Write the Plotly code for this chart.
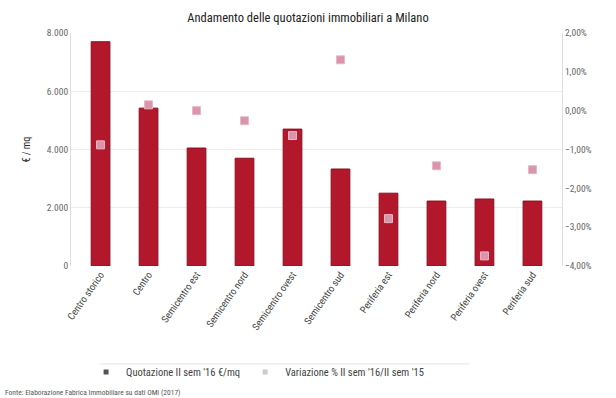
import plotly.graph_objects as go

# Milan housing prices by zone
zone = ["Centro storico", "Centro", "Semicentro est", "Semicentro nord",
        "Semicentro ovest", "Semicentro sud", "Periferia est", "Periferia nord",
        "Periferia ovest", "Periferia sud"]
prezzo_mq = [7700, 5420, 4050, 3700, 4700, 3330, 2500, 2230, 2300, 2230]
variazione_pct = [-0.88, 0.15, 0.0, -0.26, -0.64, 1.31, -2.78, -1.42, -3.74, -1.52]

titolo = "Andamento delle quotazioni immobiliari a Milano"
nome_barre = "Quotazione II sem '16 €/mq"
nome_punti = "Variazione % II sem '16/II sem '15"
fonte = "Fonte: Elaborazione Fabrica Immobiliare su dati OMI (2017)"

FONT = "Liberation Sans Narrow, Roboto Condensed, Liberation Sans, Arial, sans-serif"
TXT = "#444444"
BAR = "#B3172B"
PUNTO = "#D995AA"

fig = go.Figure()
fig.add_trace(go.Bar(
    x=zone, y=prezzo_mq, name=nome_barre, showlegend=False,
    marker=dict(color=BAR, line=dict(color="#8C0E1E", width=1)),
    yaxis="y",
))
fig.add_trace(go.Scatter(
    x=zone, y=[v / 100 for v in variazione_pct], name=nome_punti,
    mode="markers", showlegend=False,
    marker=dict(symbol="square", size=8, color=PUNTO,
                line=dict(color="#E8B8C4", width=1)),
    yaxis="y2",
))
# compact legend entries with small square swatches
fig.add_trace(go.Scatter(x=[None], y=[None], mode="markers", name=nome_barre,
                         marker=dict(symbol="square", size=5, color="#555555")))
fig.add_trace(go.Scatter(x=[None], y=[None], mode="markers", name=nome_punti,
                         marker=dict(symbol="square", size=5, color="#cccccc")))

fig.update_layout(
    width=616, height=398,
    margin=dict(l=71, r=54, t=33, b=132),
    paper_bgcolor="white", plot_bgcolor="white",
    separators=",.",
    font=dict(family=FONT, size=10, color=TXT),
    title=dict(text=titolo, x=0.5, xanchor="center", y=0.955, yanchor="middle",
               font=dict(family=FONT, size=12.5, color="#222222")),
    bargap=0.61,
    showlegend=True,
    legend=dict(orientation="h", x=0.38, xanchor="center", y=-0.455, yanchor="middle",
                font=dict(family=FONT, size=10.5, color=TXT),
                itemwidth=30, tracegroupgap=0, bgcolor="rgba(0,0,0,0)"),
    xaxis=dict(tickangle=-55, showgrid=False, showline=False, ticks="",
               automargin=False,
               tickfont=dict(family=FONT, size=10, color=TXT)),
    yaxis=dict(range=[0, 8000], dtick=2000, tickformat=",d",
               showgrid=True, gridcolor="#f1ecec", gridwidth=1,
               showline=True, linecolor="#dddddd", linewidth=1,
               zeroline=False, ticks="", automargin=False,
               title=dict(text="€ / mq", standoff=14,
                          font=dict(family=FONT, size=10, color="#222222")),
               tickfont=dict(family=FONT, size=9.5, color="#666666")),
    yaxis2=dict(range=[-0.04, 0.02], dtick=0.01, tickformat=".2%",
                overlaying="y", side="right", showgrid=False,
                showline=True, linecolor="#dddddd", linewidth=1,
                zeroline=False, ticks="", automargin=False,
                tickfont=dict(family=FONT, size=9.5, color="#666666")),
)

# thin rule above the legend
fig.add_shape(type="line", xref="paper", yref="paper",
              x0=0.06, x1=0.81, y0=-0.42, y1=-0.42,
              line=dict(color="#e3e3e3", width=1))

fig.add_annotation(text=fonte, xref="paper", yref="paper",
                   x=-0.138, y=-0.545, xanchor="left", yanchor="middle",
                   showarrow=False,
                   font=dict(family=FONT, size=7.5, color="#555555"))

fig.write_html("out.html")
